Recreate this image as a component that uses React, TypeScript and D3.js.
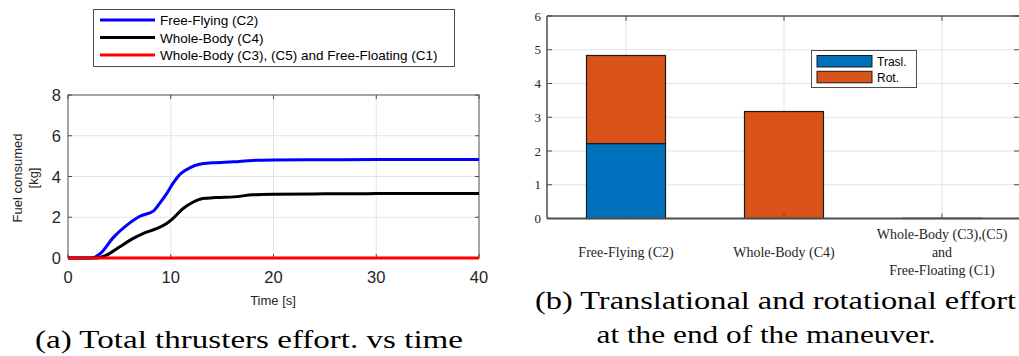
import React from "react";
import * as d3 from "d3";

// ---- Data ----
const timeBlue = [0, 2.3, 3.1, 4.4, 5.7, 7.0, 8.3, 8.9, 9.6, 10.2, 11.0, 11.9, 12.8, 14.1, 16.1, 18, 20, 25, 30, 40];
const fuelBlue = [0, 0, 0.2, 1.0, 1.6, 2.05, 2.3, 2.67, 3.16, 3.65, 4.15, 4.44, 4.6, 4.67, 4.72, 4.79, 4.81, 4.82, 4.83, 4.83];
const timeBlack = [0, 2.8, 3.7, 5.0, 6.3, 7.3, 8.6, 9.6, 10.2, 11.2, 12.2, 13.1, 14.4, 16.1, 18, 20, 25, 30, 40];
const fuelBlack = [0, 0, 0.13, 0.54, 0.95, 1.2, 1.44, 1.69, 1.93, 2.43, 2.75, 2.92, 2.97, 3.0, 3.1, 3.13, 3.15, 3.16, 3.17];
const timeRed = [0, 40];
const fuelRed = [0, 0];

const lineLegend = ["Free-Flying (C2)", "Whole-Body (C4)", "Whole-Body (C3), (C5) and Free-Floating (C1)"];
const lineColors = ["#0000ff", "#000000", "#ff0000"];
const xTicksA = [0, 10, 20, 30, 40];
const yTicksA = [0, 2, 4, 6, 8];

const barCategories = [
  ["Free-Flying (C2)"],
  ["Whole-Body (C4)"],
  ["Whole-Body (C3),(C5)", "and", "Free-Floating (C1)"],
];
const traslValues = [2.22, 0, 0];
const rotValues = [2.61, 3.17, 0.005];
const barLegend = ["Trasl.", "Rot."];
const barColors = ["#0072BD", "#D95319"];
const yTicksB = [0, 1, 2, 3, 4, 5, 6];

const sans = "'Liberation Sans', Arial, sans-serif";
const serif = "'Liberation Serif', 'DejaVu Serif', serif";

export default function App() {
  // Left chart
  const xA = d3.scaleLinear().domain([0, 40]).range([68, 479]);
  const yA = d3.scaleLinear().domain([0, 8]).range([258, 95]);
  const line = d3
    .line<[number, number]>()
    .x((d) => xA(d[0]))
    .y((d) => yA(d[1]))
    .curve(d3.curveMonotoneX);
  const series = [
    { t: timeBlue, v: fuelBlue },
    { t: timeBlack, v: fuelBlack },
    { t: timeRed, v: fuelRed },
  ];

  // Right chart
  const xB = d3.scaleLinear().domain([0.5, 3.5]).range([547, 1021]);
  const yB = d3.scaleLinear().domain([0, 6]).range([218.5, 16]);
  const bw = xB(1.5) - xB(1);

  const axisColor = "#4d4d4d";
  const gridColor = "#e3e3e3";

  return (
    <svg width={1019} height={356} style={{ position: "absolute", left: 0, top: 0, background: "#fff" }}>
      {/* ===== Left chart ===== */}
      <rect x={xA(0)} y={yA(8)} width={xA(40) - xA(0)} height={yA(0) - yA(8)} fill="#fff" />
      {xTicksA.slice(1, -1).map((t) => (
        <line key={"gx" + t} x1={xA(t)} x2={xA(t)} y1={yA(0)} y2={yA(8)} stroke={gridColor} strokeWidth={1} />
      ))}
      {yTicksA.slice(1, -1).map((t) => (
        <line key={"gy" + t} x1={xA(0)} x2={xA(40)} y1={yA(t)} y2={yA(t)} stroke={gridColor} strokeWidth={1} />
      ))}
      <rect x={xA(0)} y={yA(8)} width={xA(40) - xA(0)} height={yA(0) - yA(8)} fill="none" stroke={axisColor} strokeWidth={1} />
      {xTicksA.map((t) => (
        <g key={"tx" + t}>
          <line x1={xA(t)} x2={xA(t)} y1={yA(0)} y2={yA(0) - 4} stroke={axisColor} />
          <line x1={xA(t)} x2={xA(t)} y1={yA(8)} y2={yA(8) + 4} stroke={axisColor} />
          <text x={xA(t)} y={283} textAnchor="middle" fontFamily={sans} fontSize={16.5} fill="#262626">
            {t}
          </text>
        </g>
      ))}
      {yTicksA.map((t) => (
        <g key={"ty" + t}>
          <line x1={xA(0)} x2={xA(0) + 4} y1={yA(t)} y2={yA(t)} stroke={axisColor} />
          <line x1={xA(40)} x2={xA(40) - 4} y1={yA(t)} y2={yA(t)} stroke={axisColor} />
          <text x={61} y={yA(t) + 6} textAnchor="end" fontFamily={sans} fontSize={16.5} fill="#262626">
            {t}
          </text>
        </g>
      ))}
      {series.map((s, i) => (
        <path
          key={"l" + i}
          d={line(s.t.map((t, j) => [t, s.v[j]] as [number, number])) || ""}
          fill="none"
          stroke={lineColors[i]}
          strokeWidth={3}
          strokeLinejoin="round"
        />
      ))}
      <text x={273} y={305} textAnchor="middle" fontFamily={sans} fontSize={13} fill="#262626">
        Time [s]
      </text>
      <text transform="translate(22,178) rotate(-90)" textAnchor="middle" fontFamily={sans} fontSize={13} fill="#262626">
        Fuel consumed
      </text>
      <text transform="translate(38,178) rotate(-90)" textAnchor="middle" fontFamily={sans} fontSize={13} fill="#262626">
        [kg]
      </text>
      {/* legend left */}
      <rect x={93.5} y={9.5} width={361} height={57} fill="#fff" stroke={axisColor} strokeWidth={1} />
      {lineLegend.map((l, i) => (
        <g key={"lg" + i}>
          <line x1={100} x2={155} y1={20 + i * 17.5} y2={20 + i * 17.5} stroke={lineColors[i]} strokeWidth={3} />
          <text x={160} y={25 + i * 17.5} fontFamily={sans} fontSize={13.5} fill="#000">
            {l}
          </text>
        </g>
      ))}
      <text x={249} y={348} textAnchor="middle" fontFamily={serif} fontSize={26} fill="#000" textLength={428} lengthAdjust="spacingAndGlyphs">
        (a) Total thrusters effort. vs time
      </text>

      {/* ===== Right chart ===== */}
      {yTicksB.slice(1, -1).map((t) => (
        <line key={"gyb" + t} x1={xB(0.5)} x2={xB(3.5)} y1={yB(t)} y2={yB(t)} stroke={gridColor} strokeWidth={1} />
      ))}
      {[1, 2, 3].map((c) => (
        <line key={"gxb" + c} x1={xB(c)} x2={xB(c)} y1={yB(0)} y2={yB(6)} stroke={gridColor} strokeWidth={1} />
      ))}
      {barCategories.map((_, i) => {
        const c = i + 1;
        const x0 = xB(c) - bw / 2;
        const tr = traslValues[i];
        const ro = rotValues[i];
        return (
          <g key={"bar" + i}>
            {tr > 0 && (
              <rect x={x0} y={yB(tr)} width={bw} height={yB(0) - yB(tr)} fill={barColors[0]} stroke="#1a1a1a" strokeWidth={1.2} />
            )}
            <rect x={x0} y={yB(tr + ro)} width={bw} height={Math.max(0, yB(tr) - yB(tr + ro))} fill={barColors[1]} stroke="#1a1a1a" strokeWidth={1.2} />
          </g>
        );
      })}
      <line x1={xB(0.5)} x2={xB(3.5)} y1={yB(0)} y2={yB(0)} stroke={axisColor} strokeWidth={2} />
      <line x1={xB(0.5)} x2={xB(3.5)} y1={yB(6)} y2={yB(6)} stroke={axisColor} strokeWidth={1.5} />
      <line x1={xB(0.5)} x2={xB(0.5)} y1={yB(0)} y2={yB(6)} stroke={axisColor} strokeWidth={1.5} />
      <line x1={xB(3.5)} x2={xB(3.5)} y1={yB(0)} y2={yB(6)} stroke={axisColor} strokeWidth={1.5} />
      {[1, 2, 3].map((c) => (
        <g key={"txb" + c}>
          <line x1={xB(c)} x2={xB(c)} y1={yB(0)} y2={yB(0) - 5} stroke={axisColor} />
          <line x1={xB(c)} x2={xB(c)} y1={yB(6)} y2={yB(6) + 5} stroke={axisColor} />
        </g>
      ))}
      {yTicksB.map((t) => (
        <g key={"tyb" + t}>
          <line x1={xB(0.5)} x2={xB(0.5) + 5} y1={yB(t)} y2={yB(t)} stroke={axisColor} />
          <line x1={1019} x2={1014} y1={yB(t)} y2={yB(t)} stroke={axisColor} />
          <text x={541} y={yB(t) + 4.5} textAnchor="end" fontFamily={serif} fontSize={13} fill="#262626">
            {t}
          </text>
        </g>
      ))}
      {barCategories.map((lines, i) => {
        const c = i + 1;
        const startY = lines.length === 1 ? 257 : 239;
        return (
          <text key={"cat" + i} textAnchor="middle" fontFamily={serif} fontSize={14} fill="#262626">
            {lines.map((l, k) => (
              <tspan key={k} x={xB(c)} y={startY + k * 18}>
                {l}
              </tspan>
            ))}
          </text>
        );
      })}
      {/* legend right */}
      <rect x={811.5} y={50.5} width={105} height={37} fill="#fff" stroke={axisColor} strokeWidth={1} />
      {barLegend.map((l, i) => (
        <g key={"blg" + i}>
          <rect x={817} y={55.5 + i * 15.8} width={55} height={11.5} fill={barColors[i]} stroke="#1a1a1a" strokeWidth={1} />
          <text x={877} y={66 + i * 15.8} fontFamily={sans} fontSize={12} fill="#000">
            {l}
          </text>
        </g>
      ))}
      <text x={775.5} y={309} textAnchor="middle" fontFamily={serif} fontSize={26} fill="#000" textLength={481} lengthAdjust="spacingAndGlyphs">
        (b) Translational and rotational effort
      </text>
      <text x={766} y={343} textAnchor="middle" fontFamily={serif} fontSize={26} fill="#000" textLength={339} lengthAdjust="spacingAndGlyphs">
        at the end of the maneuver.
      </text>
    </svg>
  );
}
